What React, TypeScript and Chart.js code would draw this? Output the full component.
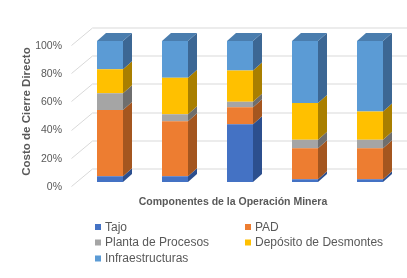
import { useEffect, useRef } from "react";
import { Chart, registerables } from "chart.js";

Chart.register(...registerables);

const categories = ["Unidad 1", "Unidad 2", "Unidad 3", "Unidad 4", "Unidad 5"];
const seriesNames = ["Tajo", "PAD", "Planta de Procesos", "Depósito de Desmontes", "Infraestructuras"];
const tajo = [4, 4, 41, 2, 2];
const pad = [47, 39, 12, 22, 22];
const planta = [12, 5, 4, 6, 6];
const deposito = [17, 26, 22, 26, 20];
const infraestructuras = [20, 26, 21, 44, 50];
const yTicks = [0, 20, 40, 60, 80, 100];
const xTitle = "Componentes de la Operación Minera";
const yTitle = "Costo de Cierre Directo";

const frontColors = ["#4472C4", "#ED7D31", "#A5A5A5", "#FFC000", "#5B9BD5"];
const sideColors = ["#2C4F8E", "#A4561F", "#6E6E6E", "#A97F00", "#3C6794"];
const topColor = "#4A7DAE";
const textColor = "#595959";
const FONT = "'Liberation Sans', Arial, sans-serif";

const depthX = 9;
const depthY = 8;

const threeDPlugin = {
  id: "threeD",
  beforeDatasetsDraw(chart: any) {
    const ctx = chart.ctx;
    const ys = chart.scales.y;
    const left = chart.chartArea.left;
    ctx.save();
    ctx.strokeStyle = "#D9D9D9";
    ctx.lineWidth = 1;
    yTicks.forEach((v) => {
      const yf = Math.round(ys.getPixelForValue(v)) + 0.5;
      ctx.beginPath();
      ctx.moveTo(left - 6, yf + 4);
      ctx.lineTo(left + 15, yf - 13.5);
      ctx.lineTo(chart.width, yf - 13.5);
      ctx.stroke();
    });
    ctx.restore();
  },
  afterDatasetsDraw(chart: any) {
    const ctx = chart.ctx;
    const n = chart.data.datasets.length;
    ctx.save();
    chart.data.datasets.forEach((ds: any, i: number) => {
      const meta = chart.getDatasetMeta(i);
      meta.data.forEach((el: any) => {
        const { x, y, base, width } = el.getProps(["x", "y", "base", "width"], true);
        if (Math.abs(base - y) < 0.01) return;
        const r = x + width / 2;
        const l = x - width / 2;
        const top = Math.min(y, base);
        const bot = Math.max(y, base);
        ctx.fillStyle = sideColors[i];
        ctx.beginPath();
        ctx.moveTo(r, top);
        ctx.lineTo(r + depthX, top - depthY);
        ctx.lineTo(r + depthX, bot - depthY);
        ctx.lineTo(r, bot);
        ctx.closePath();
        ctx.fill();
        if (i === n - 1) {
          ctx.fillStyle = topColor;
          ctx.beginPath();
          ctx.moveTo(l, top);
          ctx.lineTo(l + depthX, top - depthY);
          ctx.lineTo(r + depthX, top - depthY);
          ctx.lineTo(r, top);
          ctx.closePath();
          ctx.fill();
        }
      });
    });
    ctx.restore();
  },
  afterDraw(chart: any) {
    const ctx = chart.ctx;
    ctx.save();
    ctx.fillStyle = textColor;
    ctx.textBaseline = "middle";
    ctx.textAlign = "center";
    ctx.font = `bold 10.5px ${FONT}`;
    ctx.fillText(xTitle, 233, 202);
    ctx.textAlign = "left";
    ctx.font = `12px ${FONT}`;
    const colX = [95, 245];
    const rowY = [227, 242.5, 258.5];
    chart.data.datasets.forEach((ds: any, i: number) => {
      const cx = colX[i % 2];
      const cy = rowY[Math.floor(i / 2)];
      ctx.fillStyle = frontColors[i];
      ctx.fillRect(cx, cy - 3, 6, 6);
      ctx.fillStyle = textColor;
      ctx.fillText(ds.label, cx + 10, cy + 0.5);
    });
    ctx.restore();
  },
};

export default function App() {
  const ref = useRef<HTMLCanvasElement | null>(null);
  useEffect(() => {
    if (!ref.current) return;
    const series = [tajo, pad, planta, deposito, infraestructuras];
    const chart = new Chart(ref.current, {
      type: "bar",
      data: {
        labels: categories,
        datasets: series.map((d, i) => ({
          label: seriesNames[i],
          data: d,
          backgroundColor: frontColors[i],
          borderWidth: 0,
          categoryPercentage: 1,
          barPercentage: 0.4,
        })),
      },
      options: {
        animation: false,
        responsive: true,
        maintainAspectRatio: false,
        layout: { padding: { left: 0, right: 4.5, top: 41, bottom: 96 } },
        plugins: { legend: { display: false }, tooltip: { enabled: false } },
        scales: {
          x: { stacked: true, display: false },
          y: {
            stacked: true,
            min: 0,
            max: 100,
            afterFit: (s: any) => {
              s.width = 77.5;
            },
            afterBuildTicks: (s: any) => {
              s.ticks = yTicks.map((v) => ({ value: v }));
            },
            grid: { display: false, drawTicks: false },
            border: { display: false },
            ticks: {
              padding: 15.5,
              labelOffset: 5,
              color: textColor,
              font: { family: FONT, size: 10.5 },
              callback: (v: any) => `${v}%`,
            },
            title: {
              display: true,
              text: yTitle,
              color: textColor,
              font: { family: FONT, size: 11.5, weight: "bold" },
              padding: { top: 20, bottom: 0 },
            },
          },
        },
      },
      plugins: [threeDPlugin],
    });
    return () => chart.destroy();
  }, []);
  return (
    <div style={{ position: "absolute", left: 0, top: 0, width: 407, height: 278, background: "#fff" }}>
      <canvas ref={ref} />
    </div>
  );
}
